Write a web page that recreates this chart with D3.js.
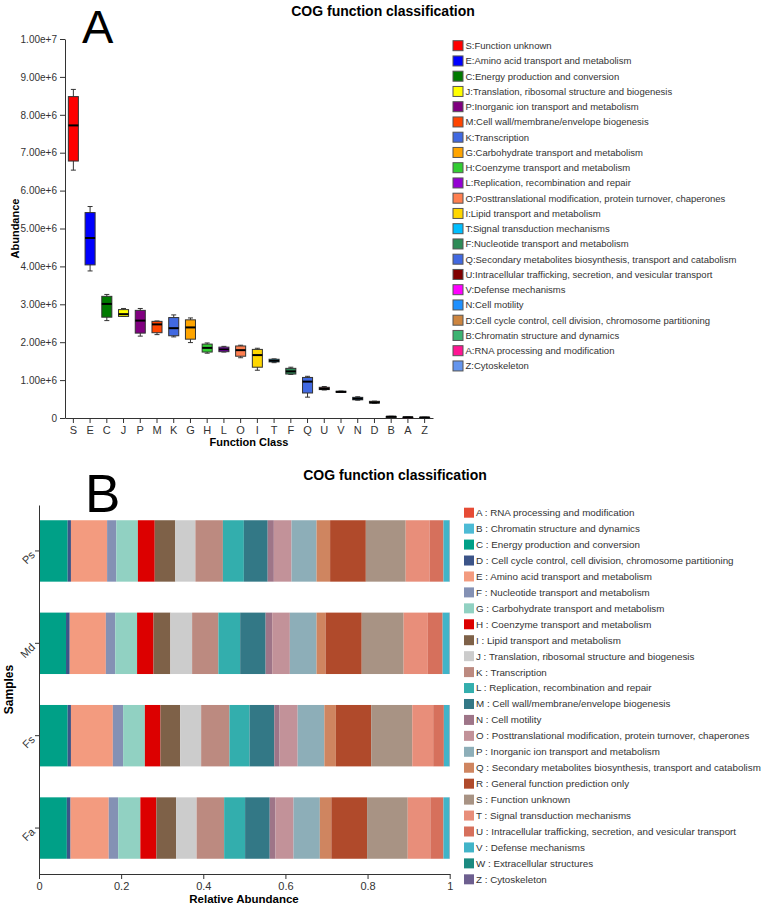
<!DOCTYPE html>
<html>
<head>
<meta charset="utf-8">
<script src="https://cdn.jsdelivr.net/npm/d3@7"></script>
<style>
  body { margin: 0; background: #fff; }
  text { font-family: "Liberation Sans", Arial, sans-serif; }
</style>
</head>
<body>
<svg id="chart" width="767" height="907"></svg>
<script>
// ---- Panel A data: COG box plot ----
const boxClasses = ["S","E","C","J","P","M","K","G","H","L","O","I","T","F","Q","U","V","N","D","B","A","Z"];
const boxNames = [
  "S:Function unknown",
  "E:Amino acid transport and metabolism",
  "C:Energy production and conversion",
  "J:Translation, ribosomal structure and biogenesis",
  "P:Inorganic ion transport and metabolism",
  "M:Cell wall/membrane/envelope biogenesis",
  "K:Transcription",
  "G:Carbohydrate transport and metabolism",
  "H:Coenzyme transport and metabolism",
  "L:Replication, recombination and repair",
  "O:Posttranslational modification, protein turnover, chaperones",
  "I:Lipid transport and metabolism",
  "T:Signal transduction mechanisms",
  "F:Nucleotide transport and metabolism",
  "Q:Secondary metabolites biosynthesis, transport and catabolism",
  "U:Intracellular trafficking, secretion, and vesicular transport",
  "V:Defense mechanisms",
  "N:Cell motility",
  "D:Cell cycle control, cell division, chromosome partitioning",
  "B:Chromatin structure and dynamics",
  "A:RNA processing and modification",
  "Z:Cytoskeleton"
];
const boxColors = ["#ff0000","#0000ff","#007a00","#ffff00","#800080","#ff4500","#4169e1","#ffa500",
  "#32cd32","#9400d3","#ff7f50","#ffd700","#00bfff","#2e8b57","#4169e1","#800000","#ff00ff",
  "#1e90ff","#cd853f","#3cb371","#ff1493","#6495ed"];
// values in millions
const whiskerLow  = [6.54,3.88,2.57,2.68,2.16,2.20,2.14,1.99,1.71,1.74,1.59,1.26,1.46,1.15,0.55,0.74,0.675,0.47,0.39,0.025,0.015,0.010];
const quart1      = [6.78,4.04,2.66,2.68,2.24,2.25,2.17,2.08,1.74,1.75,1.63,1.34,1.48,1.16,0.66,0.75,0.68,0.48,0.395,0.030,0.018,0.012];
const medians     = [7.72,4.75,3.01,2.74,2.57,2.47,2.37,2.39,1.85,1.81,1.79,1.66,1.51,1.23,0.96,0.77,0.69,0.51,0.41,0.035,0.020,0.015];
const quart3      = [8.48,5.42,3.21,2.86,2.84,2.55,2.65,2.59,1.95,1.87,1.90,1.81,1.55,1.31,1.07,0.81,0.705,0.545,0.44,0.040,0.022,0.017];
const whiskerHigh = [8.67,5.58,3.26,2.89,2.89,2.56,2.72,2.64,1.98,1.89,1.92,1.84,1.56,1.34,1.10,0.83,0.71,0.56,0.445,0.045,0.025,0.020];

// ---- Panel B data: relative abundance per sample ----
const samples = ["Ps","Md","Fs","Fa"];
const cogCats = ["A","B","C","D","E","F","G","H","I","J","K","L","M","N","O","P","Q","R","S","T","U","V","W","Z"];
const cogNames = [
  "A : RNA processing and modification",
  "B : Chromatin structure and dynamics",
  "C : Energy production and conversion",
  "D : Cell cycle control, cell division, chromosome partitioning",
  "E : Amino acid transport and metabolism",
  "F : Nucleotide transport and metabolism",
  "G : Carbohydrate transport and metabolism",
  "H : Coenzyme transport and metabolism",
  "I : Lipid transport and metabolism",
  "J : Translation, ribosomal structure and biogenesis",
  "K : Transcription",
  "L : Replication, recombination and repair",
  "M : Cell wall/membrane/envelope biogenesis",
  "N : Cell motility",
  "O : Posttranslational modification, protein turnover, chaperones",
  "P : Inorganic ion transport and metabolism",
  "Q : Secondary metabolites biosynthesis, transport and catabolism",
  "R : General function prediction only",
  "S : Function unknown",
  "T : Signal transduction mechanisms",
  "U : Intracellular trafficking, secretion, and vesicular transport",
  "V : Defense mechanisms",
  "W : Extracellular structures",
  "Z : Cytoskeleton"
];
const cogColors = ["#e64b35","#4dbbd5","#00a087","#3c5488","#f39b7f","#8491b4","#91d1c2","#dc0000",
  "#7e6148","#cccccc","#bc8a80","#33aead","#337886","#9e7588","#c29299","#8daeb8","#cf8560",
  "#b04a2b","#a89384","#e88e7a","#d6705c","#41b4c8","#1b8a80","#6d5f8f"];
const psValues = [0.0003,0.0005,0.069,0.008,0.088,0.0225,0.0525,0.041,0.050,0.049,0.067,0.051,0.058,0.015,0.043,0.061,0.033,0.087,0.097,0.058,0.034,0.014,0.0006,0.0006];
const mdValues = [0.0003,0.0005,0.065,0.009,0.088,0.023,0.053,0.040,0.041,0.053,0.064,0.053,0.062,0.016,0.043,0.065,0.022,0.088,0.102,0.059,0.036,0.016,0.0006,0.0006];
const fsValues = [0.0003,0.0005,0.069,0.008,0.102,0.025,0.053,0.038,0.048,0.051,0.069,0.049,0.060,0.013,0.044,0.065,0.028,0.086,0.100,0.051,0.026,0.013,0.0006,0.0006];
const faValues = [0.0003,0.0005,0.067,0.009,0.093,0.023,0.054,0.039,0.048,0.050,0.067,0.051,0.060,0.014,0.044,0.064,0.028,0.087,0.099,0.055,0.032,0.014,0.0006,0.0006];
const sampleValues = [psValues, mdValues, fsValues, faValues];

const svg = d3.select("#chart");

function styleAxis(g, size) {
  g.selectAll("text").style("font-size", size).attr("fill", "#333");
  g.selectAll("line").attr("stroke", "#333");
  g.select(".domain").attr("stroke", "#333");
}

// ================= Panel A =================
const x = d3.scaleBand().domain(boxClasses).range([65, 433]);
const y = d3.scaleLinear().domain([0, 1e7]).range([418, 39]);

svg.append("g")
  .attr("transform", "translate(65,0)")
  .call(d3.axisLeft(y).tickValues(d3.range(0, 1e7 + 1, 1e6))
    .tickFormat(d => d === 0 ? "0" : d3.format(".2e")(d))
    .tickSize(5).tickSizeOuter(0))
  .call(g => styleAxis(g, "10px"));

svg.append("g")
  .attr("transform", "translate(0,418)")
  .call(d3.axisBottom(x).tickSize(5).tickSizeOuter(0))
  .call(g => styleAxis(g, "11px"));

const boxData = boxClasses.map((c, i) => ({
  cls: c, color: boxColors[i],
  lo: whiskerLow[i] * 1e6, q1: quart1[i] * 1e6, med: medians[i] * 1e6,
  q3: quart3[i] * 1e6, hi: whiskerHigh[i] * 1e6
}));
const bw = x.bandwidth() * 0.6;

const boxes = svg.append("g").selectAll("g")
  .data(boxData)
  .enter().append("g")
  .attr("transform", d => "translate(" + (x(d.cls) + x.bandwidth() / 2) + ",0)");

boxes.append("line")
  .attr("y1", d => y(d.lo)).attr("y2", d => y(d.hi))
  .attr("stroke", "#333").attr("stroke-width", 1);
boxes.append("line")
  .attr("x1", -2.5).attr("x2", 2.5)
  .attr("y1", d => y(d.hi)).attr("y2", d => y(d.hi))
  .attr("stroke", "#333");
boxes.append("line")
  .attr("x1", -2.5).attr("x2", 2.5)
  .attr("y1", d => y(d.lo)).attr("y2", d => y(d.lo))
  .attr("stroke", "#333");
boxes.append("rect")
  .attr("x", -bw / 2).attr("width", bw)
  .attr("y", d => y(d.q3))
  .attr("height", d => Math.max(1, y(d.q1) - y(d.q3)))
  .attr("fill", d => d.color)
  .attr("stroke", "#333").attr("stroke-width", 1);
boxes.append("line")
  .attr("x1", -bw / 2).attr("x2", bw / 2)
  .attr("y1", d => y(d.med)).attr("y2", d => y(d.med))
  .attr("stroke", "#000").attr("stroke-width", 2);

// axis titles
svg.append("text")
  .attr("x", 249).attr("y", 446)
  .attr("text-anchor", "middle")
  .style("font-size", "11px").style("font-weight", "bold")
  .text("Function Class");
svg.append("text")
  .attr("transform", "translate(19,228.5) rotate(-90)")
  .attr("text-anchor", "middle")
  .style("font-size", "11px").style("font-weight", "bold")
  .text("Abundance");
svg.append("text")
  .attr("x", 383).attr("y", 16)
  .attr("text-anchor", "middle")
  .style("font-size", "14px").style("font-weight", "bold")
  .text("COG function classification");
svg.append("text")
  .attr("x", 82).attr("y", 43)
  .style("font-size", "47px")
  .text("A");

// legend A
const legA = svg.append("g").selectAll("g")
  .data(boxData)
  .enter().append("g")
  .attr("transform", (d, i) => "translate(453," + (45.7 + i * 15.25) + ")");
legA.append("rect")
  .attr("x", 0).attr("y", -5).attr("width", 10).attr("height", 10)
  .attr("fill", d => d.color).attr("stroke", "#555");
legA.append("text")
  .attr("x", 12.5).attr("y", 0).attr("dy", "0.35em")
  .style("font-size", "9.5px").attr("fill", "#333")
  .text((d, i) => boxNames[i]);

// ================= Panel B =================
const xb = d3.scaleLinear().domain([0, 1]).range([39, 449.7]);
const yb = d3.scaleBand().domain(samples).range([505, 874])
  .paddingInner(0.335).paddingOuter(0.165);

const rows = samples.map((s, i) => {
  const r = { sample: s };
  cogCats.forEach((c, j) => { r[c] = sampleValues[i][j]; });
  return r;
});
const stacked = d3.stack().keys(cogCats)(rows);
const colorB = d3.scaleOrdinal().domain(cogCats).range(cogColors);

svg.append("g").selectAll("g")
  .data(stacked)
  .enter().append("g")
  .attr("fill", d => colorB(d.key))
  .selectAll("rect")
  .data(d => d)
  .enter().append("rect")
  .attr("x", d => xb(d[0]))
  .attr("width", d => xb(d[1]) - xb(d[0]))
  .attr("y", d => yb(d.data.sample))
  .attr("height", yb.bandwidth());

svg.append("g")
  .attr("transform", "translate(39,0)")
  .call(d3.axisLeft(yb).tickSize(4).tickSizeOuter(0))
  .call(g => styleAxis(g, "11px"))
  .call(g => g.selectAll(".tick text")
    .attr("x", -6).attr("y", 2).attr("dy", "0.35em")
    .attr("text-anchor", "end")
    .attr("transform", "rotate(-45,-6,2)"));

svg.append("g")
  .attr("transform", "translate(0,874)")
  .call(d3.axisBottom(xb).ticks(5).tickFormat(d3.format("~g")).tickSize(5).tickSizeOuter(0))
  .call(g => styleAxis(g, "11px"));

svg.append("text")
  .attr("x", 244).attr("y", 903)
  .attr("text-anchor", "middle")
  .style("font-size", "11.5px").style("font-weight", "bold")
  .text("Relative Abundance");
svg.append("text")
  .attr("transform", "translate(13,689.5) rotate(-90)")
  .attr("text-anchor", "middle")
  .style("font-size", "12px").style("font-weight", "bold")
  .text("Samples");
svg.append("text")
  .attr("x", 395).attr("y", 480)
  .attr("text-anchor", "middle")
  .style("font-size", "14px").style("font-weight", "bold")
  .text("COG function classification");
svg.append("text")
  .attr("x", 85).attr("y", 512)
  .style("font-size", "53px")
  .text("B");

// legend B
const legB = svg.append("g").selectAll("g")
  .data(cogCats)
  .enter().append("g")
  .attr("transform", (d, i) => "translate(464," + (512.7 + i * 15.94) + ")");
legB.append("rect")
  .attr("x", 0).attr("y", -5).attr("width", 10).attr("height", 10)
  .attr("fill", d => colorB(d));
legB.append("text")
  .attr("x", 12).attr("y", 0).attr("dy", "0.35em")
  .style("font-size", "9.8px").attr("fill", "#333")
  .text((d, i) => cogNames[i]);
</script>
</body>
</html>
